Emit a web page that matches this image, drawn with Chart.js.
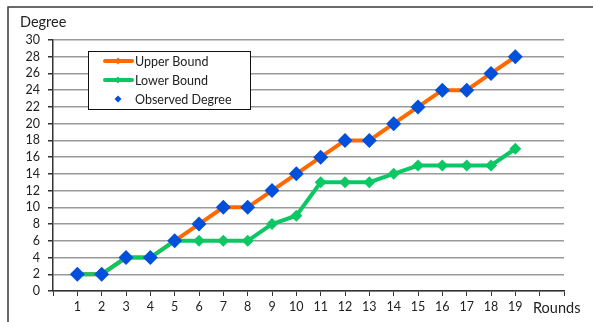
<!DOCTYPE html>
<html>
<head>
<meta charset="utf-8">
<script src="https://cdn.jsdelivr.net/npm/chart.js@4/dist/chart.umd.min.js"></script>
<style>
  html, body { margin: 0; padding: 0; background: #fff; }
  #wrap { position: relative; width: 593px; height: 322px; }
</style>
</head>
<body>
<div id="wrap"><canvas id="c" width="593" height="322"></canvas></div>
<script>
const rounds = [1, 2, 3, 4, 5, 6, 7, 8, 9, 10, 11, 12, 13, 14, 15, 16, 17, 18, 19];
const upperBound = [2, 2, 4, 4, 6, 8, 10, 10, 12, 14, 16, 18, 18, 20, 22, 24, 24, 26, 28];
const lowerBound = [2, 2, 4, 4, 6, 6, 6, 6, 8, 9, 13, 13, 13, 14, 15, 15, 15, 15, 17];
const observedDegree = [2, 2, 4, 4, 6, 8, 10, 10, 12, 14, 16, 18, 18, 20, 22, 24, 24, 26, 28];
const seriesNames = ['Upper Bound', 'Lower Bound', 'Observed Degree'];
const yAxisTitle = 'Degree';
const xAxisTitle = 'Rounds';

const ORANGE = '#FF6A00';
const GREEN = '#0CC864';
const BLUE = '#0050DC';
const FONT = 'Lato, "Open Sans", sans-serif';

const toPts = (ys) => rounds.map((r, i) => ({ x: r, y: ys[i] }));

const framePlugin = {
  id: 'frame',
  beforeDraw(chart) {
    const ctx = chart.ctx;
    ctx.save();
    ctx.fillStyle = '#fff';
    ctx.fillRect(0, 0, chart.width, chart.height);
    ctx.strokeStyle = '#3a3a3a';
    ctx.lineWidth = 1.5;
    ctx.strokeRect(8, 7, chart.width + 20, chart.height + 20);
    ctx.restore();
  },
  afterDraw(chart) {
    const ctx = chart.ctx;
    const a = chart.chartArea;
    ctx.save();
    ctx.fillStyle = '#222';
    ctx.font = '14.5px ' + FONT;
    ctx.textBaseline = 'middle';
    ctx.textAlign = 'left';
    ctx.fillText(yAxisTitle, 20, 22);
    ctx.fillText(xAxisTitle, 533, a.bottom + 17);

    // legend
    const bx = a.left + 35, by = a.top + 11, bw = 162, bh = 58;
    ctx.fillStyle = '#fff';
    ctx.fillRect(bx, by, bw, bh);
    ctx.strokeStyle = '#111';
    ctx.lineWidth = 1;
    ctx.strokeRect(bx + 0.5, by + 0.5, bw, bh);
    const ds = chart.data.datasets;
    ds.forEach((d, i) => {
      const y = by + 10 + i * 19;
      const cx = bx + 30;
      if (d.showLine !== false) {
        ctx.strokeStyle = d.borderColor;
        ctx.lineWidth = 4;
        ctx.lineCap = 'round';
        ctx.beginPath();
        ctx.moveTo(bx + 17, y);
        ctx.lineTo(bx + 44, y);
        ctx.stroke();
      }
      ctx.fillStyle = d.pointBackgroundColor;
      const r = 3.5;
      ctx.beginPath();
      ctx.moveTo(cx, y - r); ctx.lineTo(cx + r, y); ctx.lineTo(cx, y + r); ctx.lineTo(cx - r, y);
      ctx.closePath();
      ctx.fill();
      ctx.fillStyle = '#222';
      ctx.font = '12.5px ' + FONT;
      ctx.textAlign = 'left';
      ctx.fillText(d.label, bx + 47, y + 1);
    });
    ctx.restore();
  }
};

new Chart(document.getElementById('c'), {
  type: 'line',
  data: {
    datasets: [
      {
        label: seriesNames[0], data: toPts(upperBound), order: 3,
        borderColor: ORANGE, backgroundColor: ORANGE, borderWidth: 4,
        pointStyle: 'rectRot', pointRadius: 4, pointBackgroundColor: ORANGE, pointBorderWidth: 0,
        tension: 0
      },
      {
        label: seriesNames[1], data: toPts(lowerBound), order: 2,
        borderColor: GREEN, backgroundColor: GREEN, borderWidth: 4,
        pointStyle: 'rectRot', pointRadius: 6, pointBackgroundColor: GREEN, pointBorderWidth: 0,
        tension: 0
      },
      {
        label: seriesNames[2], data: toPts(observedDegree), order: 1, showLine: false,
        borderColor: BLUE, backgroundColor: BLUE, borderWidth: 0,
        pointStyle: 'rectRot', pointRadius: 7.5, pointBackgroundColor: BLUE, pointBorderWidth: 0
      }
    ]
  },
  options: {
    responsive: false,
    animation: false,
    events: [],
    layout: { padding: { left: 0, top: 40, right: 29, bottom: 11 } },
    plugins: { legend: { display: false }, tooltip: { enabled: false } },
    scales: {
      x: {
        type: 'linear', min: 0, max: 21,
        afterFit(s) { s.height = 20; },
        ticks: {
          stepSize: 1, autoSkip: false, maxRotation: 0, padding: 3,
          color: '#222', font: { family: FONT, size: 12.5 },
          callback: (v) => (v >= 1 && v <= rounds.length ? String(v) : '')
        },
        grid: { drawOnChartArea: false, drawTicks: true, tickLength: 5, color: '#333', lineWidth: 1 },
        border: { color: '#333', width: 1.5 }
      },
      y: {
        min: 0, max: 30,
        afterFit(s) { s.width = 53; },
        ticks: {
          stepSize: 2, autoSkip: false, padding: 8,
          color: '#222', font: { family: FONT, size: 12.5 }
        },
        grid: { color: '#999', lineWidth: 1.5, tickLength: 5, tickColor: '#333' },
        border: { color: '#333', width: 1.5 }
      }
    }
  },
  plugins: [framePlugin]
});
</script>
</body>
</html>
